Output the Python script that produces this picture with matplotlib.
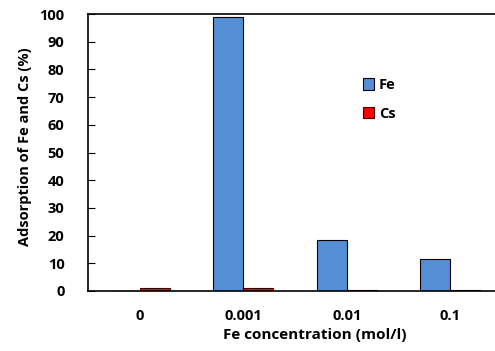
import numpy as np
import matplotlib.pyplot as plt

# concentrações de Fe testadas e adsorção (%) de cada íon
concentracoes = ['0', '0.001', '0.01', '0.1']
ads_fe = [0.0, 98.8, 18.3, 11.4]
ads_cs = [1.0, 1.0, 0.2, 0.3]

plt.rcParams['font.family'] = ['Open Sans', 'DejaVu Sans']
plt.rcParams['font.weight'] = 'bold'

fig = plt.figure(figsize=(4.95, 3.51), dpi=100)
ax = fig.add_axes([88 / 495, 60 / 351, 414 / 495, 277 / 351])

x = np.arange(len(concentracoes))
largura = 0.29
ax.bar(x - largura / 2, ads_fe, largura, color='#558ED5', edgecolor='black',
       linewidth=0.8, label='Fe')
ax.bar(x + largura / 2, ads_cs, largura, color='#FF0000', edgecolor='#400000',
       linewidth=0.8, label='Cs')

ax.set_xlim(-0.5, 3.5)
ax.set_ylim(0, 100)
ax.set_yticks(range(0, 101, 10))
ax.set_xticks(x)
ax.set_xticklabels(concentracoes)
ax.tick_params(axis='y', direction='in', length=5, width=0.8, pad=17, labelsize=10.5)
ax.tick_params(axis='x', length=0, pad=13, labelsize=10.5)

for lado in ['left', 'top', 'bottom']:
    ax.spines[lado].set_linewidth(1.2)
ax.spines['right'].set_visible(False)

ax.set_xlabel('Fe concentration (mol/l)', fontsize=11, fontweight='bold')
ax.xaxis.set_label_coords(0.548, -0.135)
ax.set_ylabel('Adsorption of Fe and Cs (%)', fontsize=10.5, fontweight='bold')
ax.yaxis.set_label_coords(-0.135, 0.52)

ax.legend(loc='upper left', bbox_to_anchor=(0.632, 0.816), frameon=False,
          fontsize=10.5, handlelength=0.8, handleheight=0.8, labelspacing=1.0,
          handletextpad=0.3)

fig.savefig('out.png', dpi=100)
